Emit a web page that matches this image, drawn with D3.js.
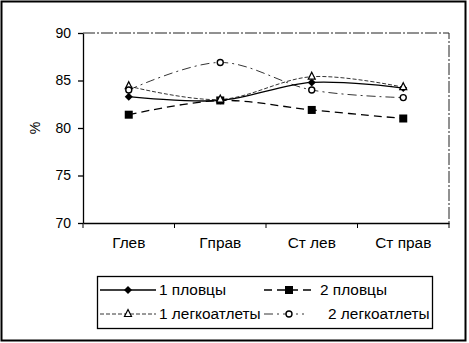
<!DOCTYPE html>
<html>
<head>
<meta charset="utf-8">
<script src="https://cdn.jsdelivr.net/npm/d3@7"></script>
<style>
  body { margin: 0; background: #fff; }
  svg { display: block; font-family: "Liberation Sans", Arial, sans-serif; }
</style>
</head>
<body>
<svg id="drawing_region"></svg>
<script>
const categories = ['Глев', 'Гправ', 'Ст лев', 'Ст прав'];
const swim1 = [83.3, 82.9, 84.8, 84.2];
const swim2 = [81.4, 82.9, 81.9, 81.0];
const athl1 = [84.4, 83.0, 85.4, 84.3];
const athl2 = [84.0, 86.9, 84.0, 83.2];
const yTicks = [70, 75, 80, 85, 90];

const series = [
    { name: '1 пловцы', values: swim1, dash: null, width: 1.3, marker: 'diamond' },
    { name: '2 пловцы', values: swim2, dash: '8,5', width: 1.3, marker: 'square' },
    { name: '1 легкоатлеты', values: athl1, dash: '4,2', width: 0.8, marker: 'triangle' },
    { name: '2 легкоатлеты', values: athl2, dash: '9,4,2,4', width: 0.8, marker: 'circle' }
];

const width = 469, height = 343;
const plot = { left: 83, right: 449, top: 33, bottom: 223 };

const svg = d3.select('#drawing_region')
    .attr('width', width)
    .attr('height', height);

// widen text a bit, the scanned original is stretched horizontally
function stretch(sel, k) {
    sel.each(function () {
        const w = this.getComputedTextLength();
        d3.select(this)
            .attr('textLength', w * k)
            .attr('lengthAdjust', 'spacingAndGlyphs');
    });
}

// outer frame
svg.append('rect')
    .attr('x', 1.5).attr('y', 1.5)
    .attr('width', 464).attr('height', 339)
    .attr('fill', 'none')
    .attr('stroke', 'black')
    .attr('stroke-width', 2);

const x = d3.scaleBand()
    .domain(categories)
    .range([plot.left, plot.right]);

const y = d3.scaleLinear()
    .domain([70, 90])
    .range([plot.bottom, plot.top]);

const cx = c => x(c) + x.bandwidth() / 2;

// plot area top / right border
svg.append('path')
    .attr('d', `M${plot.left},${plot.top}H${plot.right}V${plot.bottom}`)
    .attr('fill', 'none')
    .attr('stroke', '#222')
    .attr('stroke-width', 1)
    .attr('stroke-dasharray', '12,2,2,2');

// axes
const yAxis = svg.append('g')
    .attr('transform', `translate(${plot.left},0)`)
    .call(d3.axisLeft(y).tickValues(yTicks).tickSize(5).tickSizeOuter(0).tickPadding(7));

const xAxis = svg.append('g')
    .attr('transform', `translate(0,${plot.bottom})`)
    .call(d3.axisBottom(x).tickSize(0).tickSizeOuter(0).tickPadding(15));

// band boundary ticks on x axis
svg.selectAll('.xtick')
    .data(d3.range(categories.length + 1))
    .enter()
    .append('line')
    .attr('x1', i => plot.left + i * x.step())
    .attr('x2', i => plot.left + i * x.step())
    .attr('y1', plot.bottom)
    .attr('y2', plot.bottom + 5)
    .attr('stroke', 'black');

[yAxis, xAxis].forEach(a => {
    a.selectAll('text').style('font-size', '14px').attr('fill', 'black');
    a.selectAll('path, line').attr('stroke', 'black').attr('stroke-width', 1.3);
});
stretch(xAxis.selectAll('text'), 1.1);

svg.append('text')
    .attr('transform', `translate(40,${(plot.top + plot.bottom) / 2}) rotate(-90)`)
    .attr('text-anchor', 'middle')
    .style('font-size', '14px')
    .text('%');

const line = d3.line()
    .x((d, i) => cx(categories[i]))
    .y(d => y(d))
    .curve(d3.curveCardinal.tension(0));

function drawMarker(g, type, px, py) {
    if (type === 'diamond') {
        g.append('path')
            .attr('d', `M${px},${py - 4}L${px + 4},${py}L${px},${py + 4}L${px - 4},${py}Z`)
            .attr('fill', 'black');
    } else if (type === 'square') {
        g.append('rect')
            .attr('x', px - 4).attr('y', py - 4)
            .attr('width', 8).attr('height', 8)
            .attr('fill', 'black');
    } else if (type === 'triangle') {
        g.append('path')
            .attr('d', `M${px},${py - 4.5}L${px + 3.5},${py + 2.5}L${px - 3.5},${py + 2.5}Z`)
            .attr('fill', 'white')
            .attr('stroke', 'black')
            .attr('stroke-width', 1.2);
    } else {
        g.append('circle')
            .attr('cx', px).attr('cy', py).attr('r', 3)
            .attr('fill', 'white')
            .attr('stroke', 'black')
            .attr('stroke-width', 1.4);
    }
}

const chart = svg.append('g');

series.forEach(s => {
    chart.append('path')
        .attr('d', line(s.values))
        .attr('fill', 'none')
        .attr('stroke', 'black')
        .attr('stroke-width', s.width)
        .attr('stroke-dasharray', s.dash);
});

series.forEach(s => {
    s.values.forEach((v, i) => drawMarker(chart, s.marker, cx(categories[i]), y(v)));
});

// legend
const legend = svg.append('g');
legend.append('rect')
    .attr('x', 97.5).attr('y', 276.5)
    .attr('width', 335).attr('height', 52)
    .attr('fill', 'none')
    .attr('stroke', 'black')
    .attr('stroke-width', 1.3);

const legendPos = [
    { lx: 100, ly: 290, tx: 159, len: 56 },
    { lx: 264, ly: 290, tx: 320, len: 50 },
    { lx: 100, ly: 314, tx: 159, len: 56 },
    { lx: 264, ly: 314, tx: 328, len: 40 }
];

series.forEach((s, i) => {
    const p = legendPos[i];
    legend.append('line')
        .attr('x1', p.lx).attr('x2', p.lx + p.len)
        .attr('y1', p.ly).attr('y2', p.ly)
        .attr('stroke', 'black')
        .attr('stroke-width', s.width)
        .attr('stroke-dasharray', s.dash);
    drawMarker(legend, s.marker, p.lx + (i === 3 ? 25 : p.len / 2), p.ly);
    legend.append('text')
        .attr('x', p.tx)
        .attr('y', p.ly + 5)
        .style('font-size', '14px')
        .text(s.name);
});
stretch(legend.selectAll('text'), 1.1);
</script>
</body>
</html>
